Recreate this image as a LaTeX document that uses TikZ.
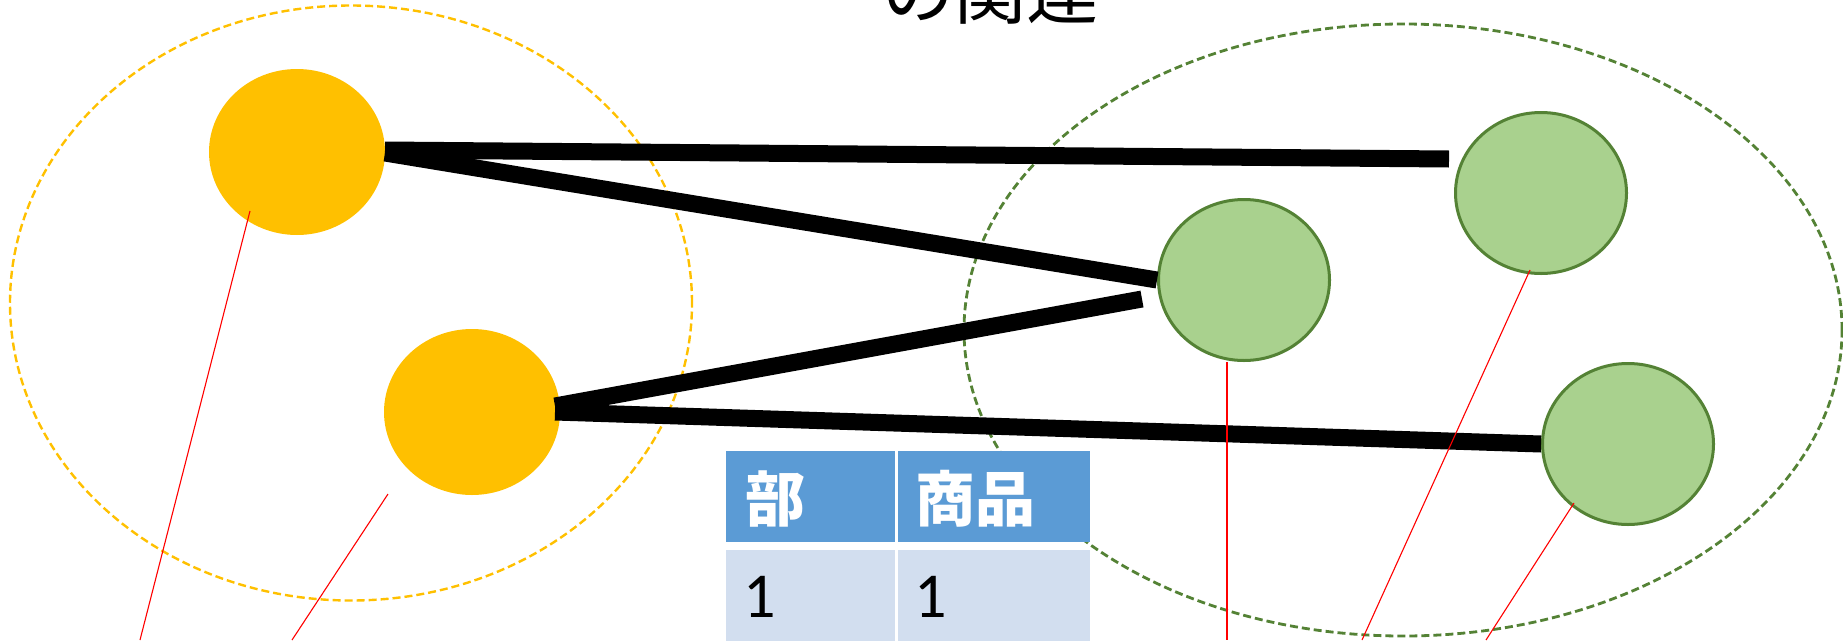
\documentclass[tikz,border=0pt]{standalone}
\usepackage{fontspec}
\setmainfont{Carlito}
\newfontfamily\cjk{Noto Sans CJK JP}
\usetikzlibrary{shapes.geometric}
\definecolor{gold}{HTML}{FFC000}
\definecolor{leaf}{HTML}{A9D18E}
\definecolor{leafdark}{HTML}{548235}
\definecolor{hdrblue}{HTML}{5B9BD5}
\definecolor{rowblue}{HTML}{D2DEEF}
\tikzset{
  grpyellow/.style={ellipse, draw=gold, line width=2.4pt, dash pattern=on 8pt off 4pt, inner sep=0pt},
  grpgreen/.style={ellipse, draw=leafdark, line width=2.8pt, dash pattern=on 8pt off 4pt, inner sep=0pt},
  ynode/.style={ellipse, fill=gold, minimum width=176pt, minimum height=166pt, inner sep=0pt},
  gnode/.style={ellipse, fill=leaf, draw=leafdark, line width=3pt, minimum width=171pt, minimum height=161pt, inner sep=0pt},
  link/.style={line width=17pt, black},
  callout/.style={red, line width=1.1pt},
  hdrcell/.style={rectangle, fill=hdrblue, anchor=north west, inner sep=0pt, minimum height=91pt},
  bodycell/.style={rectangle, fill=rowblue, anchor=north west, inner sep=0pt, minimum height=100pt},
  hdrtext/.style={anchor=base west, inner sep=0pt, text=white, font=\cjk\bfseries\fontsize{60}{66}\selectfont},
  bodytext/.style={anchor=base west, inner sep=0pt, text=black, font=\fontsize{64}{70}\selectfont},
}
\begin{document}
\begin{tikzpicture}[x=1pt,y=-1pt]
\useasboundingbox (0,0) rectangle (1843,640);
% title (cut off at the top)
\node[anchor=base, inner sep=0pt, font=\cjk\fontsize{72}{80}\selectfont] (title) at (990,18) {の関連};
% group ellipses
\node[grpyellow, minimum width=682pt, minimum height=595pt] (grpY) at (351,303) {};
\node[grpgreen, minimum width=878pt, minimum height=612pt] (grpG) at (1403,330) {};
% table
\node[hdrcell, minimum width=169pt] (h1) at (726,451) {};
\node[hdrcell, minimum width=192pt] (h2) at (898,451) {};
\node[bodycell, minimum width=169pt] (b1) at (726,550) {};
\node[bodycell, minimum width=192pt] (b2) at (898,550) {};
\node[hdrtext] (h1t) at (745,521) {部};
\node[hdrtext] (h2t) at (915,521) {商品};
\node[bodytext] (b1t) at (743,617) {1};
\node[bodytext] (b2t) at (914,617) {1};
% circles
\node[ynode] (y1) at (297,152) {};
\node[ynode] (y2) at (472,412) {};
\node[gnode] (gA) at (1244,280) {};
\node[gnode] (gB) at (1541,193) {};
\node[gnode] (gC) at (1628,444) {};
% free ends of links
\coordinate (e1) at (1449,159);
\coordinate (e3) at (1142,299);
\coordinate (s1) at (385,150);
\coordinate (s2) at (385,153);
\coordinate (s3) at (555,406);
\coordinate (s4) at (555,412);
% links
\draw[link] (s1) -- (e1);
\draw[link] (s2) -- (gA.west);
\draw[link] (s3) -- (e3);
\draw[link] (s4) -- (gC.west);
% callout lines
\coordinate (r1a) at (250,211);
\coordinate (r1b) at (140,640);
\coordinate (r2a) at (388,494);
\coordinate (r2b) at (292,640);
\coordinate (r3a) at (1227,362);
\coordinate (r3b) at (1227,640);
\coordinate (r4a) at (1530,270);
\coordinate (r4b) at (1362,640);
\coordinate (r5a) at (1574,503);
\coordinate (r5b) at (1486,640);
\draw[callout] (r1a) -- (r1b);
\draw[callout] (r2a) -- (r2b);
\draw[callout] (r3a) -- (r3b);
\draw[callout] (r4a) -- (r4b);
\draw[callout] (r5a) -- (r5b);
\end{tikzpicture}
\end{document}
